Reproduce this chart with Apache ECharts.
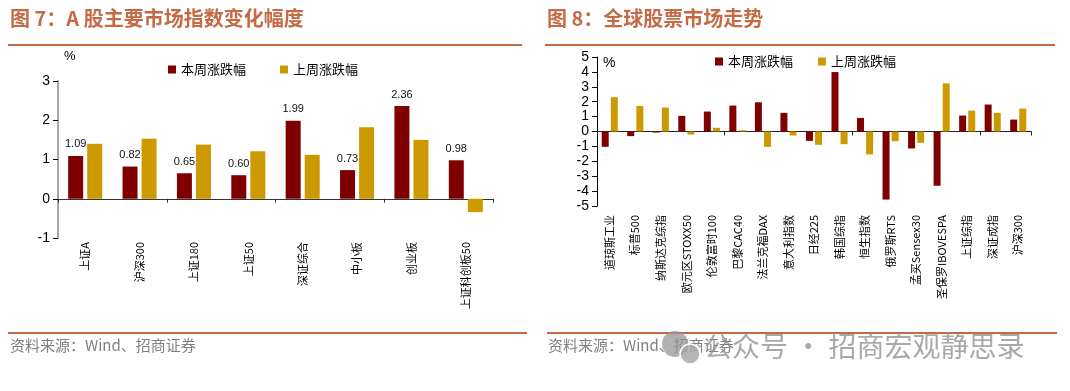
<!DOCTYPE html>
<html>
<head>
<meta charset="utf-8">
<script src="https://cdn.jsdelivr.net/npm/echarts@6/dist/echarts.min.js"></script>
<style>
html,body{margin:0;padding:0;background:#fff;}
#c{width:1070px;height:391px;}
</style>
</head>
<body>
<div id="c"></div>
<script>
// ---- Data ----
const leftCategories = ['上证A','沪深300','上证180','上证50','深证综合','中小板','创业板','上证科创板50'];
const leftThisWeek = [1.09, 0.82, 0.65, 0.60, 1.99, 0.73, 2.36, 0.98];
const leftLastWeek = [1.40, 1.53, 1.38, 1.21, 1.12, 1.82, 1.50, -0.34];
const leftYTicks = [-1, 0, 1, 2, 3];

const rightCategories = ['道琼斯工业','标普500','纳斯达克综指','欧元区STOXX50','伦敦富时100','巴黎CAC40','法兰克福DAX','意大利指数','日经225','韩国综指','恒生指数','俄罗斯RTS','孟买Sensex30','圣保罗IBOVESPA','上证综指','深证成指','沪深300'];
const rightThisWeek = [-1.03, -0.31, -0.07, 1.05, 1.34, 1.74, 1.96, 1.25, -0.63, 3.99, 0.91, -4.57, -1.14, -3.64, 1.07, 1.81, 0.80];
const rightLastWeek = [2.30, 1.72, 1.61, -0.20, 0.25, 0.08, -1.03, -0.27, -0.89, -0.85, -1.54, -0.65, -0.76, 3.23, 1.40, 1.25, 1.54];
const rightYTicks = [-5, -4, -3, -2, -1, 0, 1, 2, 3, 4, 5];

const seriesNames = ['本周涨跌幅', '上周涨跌幅'];
const titles = ['图 7：A 股主要市场指数变化幅度', '图 8：全球股票市场走势'];
const sourceText = '资料来源：Wind、招商证券';

// ---- Styles ----
const RED = '#800000', GOLD = '#CC9900', ACCENT = '#C46A45';
const NUMF = '"Liberation Sans", Arial, "Noto Sans CJK SC", sans-serif';
const CJKF = '"Noto Sans CJK SC", "Liberation Sans", sans-serif';

const chart = echarts.init(document.getElementById('c'));

function catAxes(gridIndex, cats, margin, showLine, lineColor) {
  return [
    { type: 'category', gridIndex, data: cats, position: 'bottom',
      axisLine: { show: true, onZero: true, lineStyle: { color: lineColor, width: 1 } },
      axisTick: { show: true, length: 4, lineStyle: { color: lineColor } },
      axisLabel: { show: false }, splitLine: { show: false } },
    { type: 'category', gridIndex, data: cats, position: 'bottom',
      axisLine: { show: false, onZero: false }, axisTick: { show: false },
      axisLabel: { show: true, rotate: 90, interval: 0, margin: margin, fontSize: 11, color: '#000', fontFamily: CJKF },
      splitLine: { show: false } }
  ];
}

function valAxis(gridIndex, ticks, axisColor, axisWidth) {
  return { type: 'value', gridIndex, min: ticks[0], max: ticks[ticks.length - 1], interval: 1,
    axisLine: { show: true, lineStyle: { color: axisColor, width: axisWidth } },
    axisTick: { show: true, length: 5, lineStyle: { color: '#000' } },
    axisLabel: { fontSize: 14, color: '#000', fontFamily: NUMF, margin: 8 },
    splitLine: { show: false } };
}

const option = {
  animation: false,
  backgroundColor: '#fff',
  grid: [
    { left: 58, right: 1070 - 493, top: 81, bottom: 391 - 238, containLabel: false },
    { left: 597, right: 1070 - 1031, top: 57, bottom: 391 - 206, containLabel: false }
  ],
  xAxis: [
    ...catAxes(0, leftCategories, 4, true, '#333'),
    ...catAxes(1, rightCategories, 9, true, '#222')
  ],
  yAxis: [
    valAxis(0, leftYTicks, '#A6A6A6', 2),
    valAxis(1, rightYTicks, '#000', 1)
  ],
  legend: [
    { data: seriesNames, left: 163, top: 58, itemWidth: 8, itemHeight: 8, itemGap: 34, icon: 'rect',
      textStyle: { fontSize: 13, color: '#000', fontFamily: CJKF }, selectedMode: false },
    { data: seriesNames, left: 710, top: 50, itemWidth: 8, itemHeight: 8, itemGap: 25, icon: 'rect',
      textStyle: { fontSize: 13, color: '#000', fontFamily: CJKF }, selectedMode: false }
  ],
  series: [
    { name: seriesNames[0], type: 'bar', xAxisIndex: 0, yAxisIndex: 0, data: leftThisWeek,
      barWidth: 15, barGap: '27%', itemStyle: { color: RED },
      label: { show: true, position: 'top', distance: 6, fontSize: 11, color: '#111', fontFamily: NUMF,
        formatter: p => p.value.toFixed(2) } },
    { name: seriesNames[1], type: 'bar', xAxisIndex: 0, yAxisIndex: 0, data: leftLastWeek,
      barWidth: 15, barGap: '27%', itemStyle: { color: GOLD } },
    { name: seriesNames[0], type: 'bar', xAxisIndex: 2, yAxisIndex: 1, data: rightThisWeek,
      barWidth: 7, barGap: '30%', itemStyle: { color: RED } },
    { name: seriesNames[1], type: 'bar', xAxisIndex: 2, yAxisIndex: 1, data: rightLastWeek,
      barWidth: 7, barGap: '30%', itemStyle: { color: GOLD } }
  ],
  graphic: [
    { type: 'text', left: 10, top: 8, style: { text: titles[0], fill: ACCENT, font: 'bold 20px ' + CJKF } },
    { type: 'text', left: 547, top: 8, style: { text: titles[1], fill: ACCENT, font: 'bold 20px ' + CJKF } },
    { type: 'rect', shape: { x: 8, y: 44, width: 514, height: 2 }, style: { fill: ACCENT } },
    { type: 'rect', shape: { x: 545, y: 44, width: 510, height: 2 }, style: { fill: ACCENT } },
    { type: 'rect', shape: { x: 8, y: 332, width: 519, height: 2 }, style: { fill: ACCENT } },
    { type: 'rect', shape: { x: 547, y: 332, width: 510, height: 2 }, style: { fill: ACCENT } },
    { type: 'text', left: 10, top: 338, style: { text: sourceText, fill: '#808080', font: '15px ' + CJKF } },
    { type: 'text', left: 548, top: 338, style: { text: sourceText, fill: '#808080', font: '15px ' + CJKF } },
    { type: 'text', left: 64, top: 50, style: { text: '%', fill: '#000', font: '13px ' + NUMF } },
    { type: 'text', left: 603, top: 56, style: { text: '%', fill: '#000', font: '14px ' + NUMF } },
    { type: 'circle', shape: { cx: 675, cy: 344, r: 13 }, style: { fill: 'rgba(150,150,150,0.75)' } },
    { type: 'circle', shape: { cx: 690, cy: 354, r: 10 }, style: { fill: 'rgba(165,165,165,0.8)', stroke: '#fff', lineWidth: 1.5 } },
    { type: 'text', left: 704, top: 332, style: { text: '公众号 · 招商宏观静思录', fill: 'rgba(140,140,140,0.75)', font: '28px ' + CJKF } }
  ]
};
chart.setOption(option);
</script>
</body>
</html>
